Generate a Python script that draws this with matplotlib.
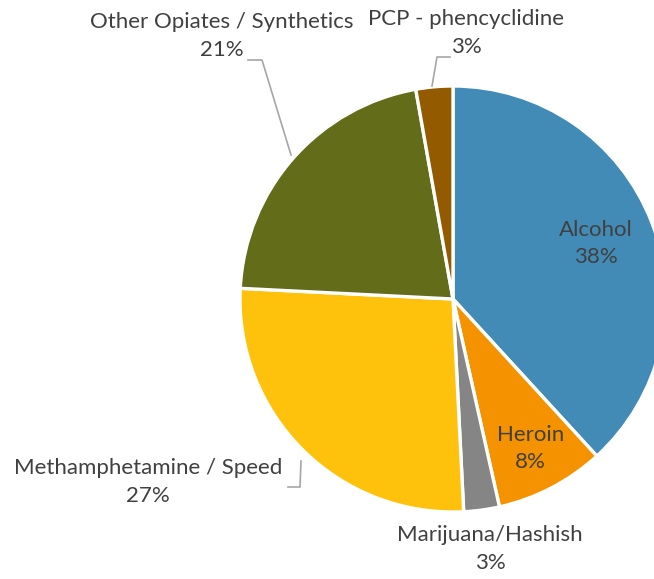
import numpy as np
import matplotlib.pyplot as plt

plt.rcParams['font.family'] = ['Lato', 'DejaVu Sans']

drugs = ["Alcohol", "Heroin", "Marijuana/Hashish", "Methamphetamine / Speed",
         "Other Opiates / Synthetics", "PCP - phencyclidine"]
shares = [38.2, 8.3, 2.7, 26.6, 21.4, 2.8]
colors = ["#428BB6", "#F49200", "#858585", "#FEC10C", "#636C19", "#935A00"]

txt = "#404040"
R = 213.0  # pie radius in pixels
cx, cy = 453, 299


def px(x, y):
    # pixel position -> data coords (pie radius = 1)
    return (x - cx) / R, (cy - y) / R


fig = plt.figure(figsize=(6.54, 5.79), dpi=100)
ax = fig.add_axes([0, 0, 1, 1])
wedges, _ = ax.pie(shares, colors=colors, startangle=90, counterclock=False,
                   radius=1.0, wedgeprops=dict(edgecolor="white", linewidth=2.4))
ax.set_aspect("auto")
ax.set_xlim(-cx / R, (654 - cx) / R)
ax.set_ylim(-(579 - cy) / R, cy / R)
ax.axis("off")

pct = [f"{round(s):d}%" for s in shares]
fs = 16
ls = 1.45

# inside labels
for i, r in [(0, 0.72), (1, 0.79)]:
    mid = 90 - (sum(shares[:i]) + shares[i] / 2) * 3.6
    x, y = r * np.cos(np.radians(mid)), r * np.sin(np.radians(mid))
    ax.text(x, y, drugs[i] + "\n" + pct[i], ha="center", va="center",
            fontsize=fs, color=txt, linespacing=ls)

# outside labels
outside = {2: (490, 549), 3: (148, 482), 4: (222, 36), 5: (466, 33)}
for i, (x, y) in outside.items():
    ax.text(*px(x, y), drugs[i] + "\n" + pct[i], ha="center", va="center",
            fontsize=fs, color=txt, linespacing=ls)

# leader lines
lead = "#A6A6A6"
for pts in [[(248, 60), (262, 60), (291, 155)],
            [(450, 57), (437, 57), (432, 86)],
            [(288, 487), (300, 487), (301, 461)]]:
    xs, ys = zip(*[px(*p) for p in pts])
    ax.plot(xs, ys, color=lead, lw=1.2)

fig.savefig("out.png", dpi=100)
